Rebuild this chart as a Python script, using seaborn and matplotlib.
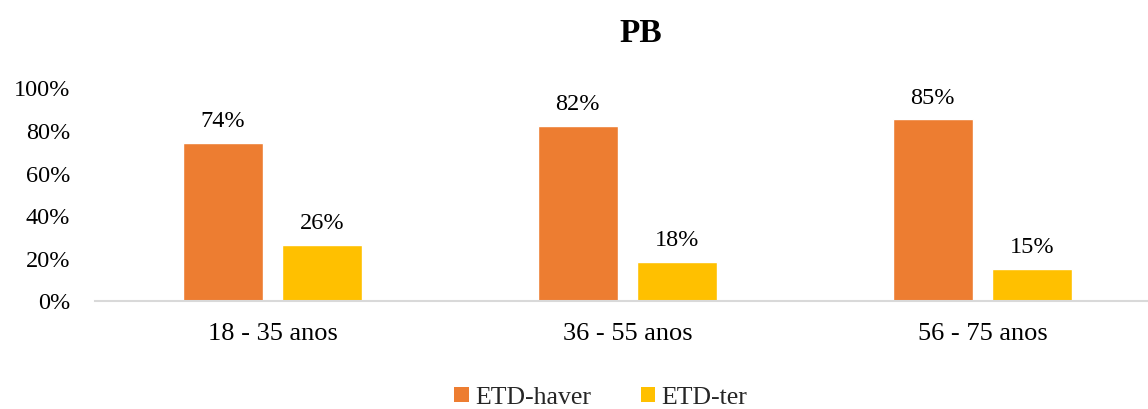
import matplotlib
matplotlib.use("Agg")
import matplotlib.pyplot as plt
import seaborn as sns
import pandas as pd
from matplotlib.patches import Patch

categories = ["18 - 35 anos", "36 - 55 anos", "56 - 75 anos"]
series_names = ["ETD-haver", "ETD-ter"]
etd_haver = [0.74, 0.82, 0.85]
etd_ter = [0.26, 0.18, 0.15]
yticks = [0, 0.2, 0.4, 0.6, 0.8, 1.0]
title = "PB"
colors = ["#ED7D31", "#FFC000"]

df = pd.DataFrame({
    "cat": categories * 2,
    "series": [series_names[0]] * 3 + [series_names[1]] * 3,
    "val": etd_haver + etd_ter,
})

sns.set_theme(style="white")
plt.rcParams["font.family"] = ["Liberation Serif", "DejaVu Serif"]

W, H = 1148, 410
fig = plt.figure(figsize=(W / 100, H / 100), dpi=100)
ax = fig.add_axes([95 / W, 1 - 301.5 / H, (1160 - 95) / W, (301.5 - 88.5) / H])

sns.barplot(data=df, x="cat", y="val", hue="series", palette=colors,
            width=0.563, gap=0.2, ax=ax, legend=False, saturation=1)

for cont in ax.containers:
    ax.bar_label(cont, labels=[f"{v*100:.0f}%" for v in cont.datavalues],
                 padding=8.5, fontsize=17.5, color="#000000")

ax.set_ylim(0, 1.0)
ax.set_xlim(-0.5, 2.5)
ax.set_yticks(yticks)
ax.set_yticklabels([f"{int(round(t*100))}%" for t in yticks])
ax.set_xlabel("")
ax.set_ylabel("")
ax.tick_params(axis="both", length=0, colors="#000000")
ax.tick_params(axis="y", pad=18, labelsize=17.5)
ax.tick_params(axis="x", pad=15.5, labelsize=19)
for s in ["top", "right", "left"]:
    ax.spines[s].set_visible(False)
ax.spines["bottom"].set_color("#D9D9D9")
ax.spines["bottom"].set_linewidth(1.5)
ax.grid(False)

fig.text(641 / W, 1 - 42 / H, title, ha="center", va="baseline",
         fontsize=24, fontweight="bold", color="#000000")

handles = [Patch(facecolor=c, edgecolor="none") for c in colors]
fig.legend(handles, series_names, loc="center", bbox_to_anchor=(601 / W, 1 - 398.5 / H),
           ncol=2, frameon=False, fontsize=18.5, handlelength=0.55, handleheight=0.55,
           handletextpad=0.25, columnspacing=1.95, borderpad=0.0)

fig.savefig("out.png", dpi=100)
